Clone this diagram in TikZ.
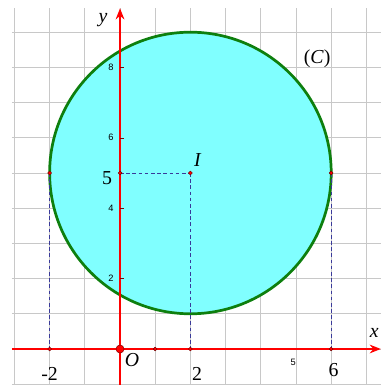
\documentclass[tikz,border=0pt]{standalone}
\usepackage{fontspec}
\setmainfont{Liberation Serif}
\newfontfamily\ticksans{Liberation Sans}
\usetikzlibrary{arrows.meta}
\definecolor{fillc}{HTML}{80FFFF}
\definecolor{circc}{HTML}{0E7F0E}
\definecolor{dashc}{HTML}{3A3A9A}
\definecolor{gridc}{HTML}{C8C8C8}
\tikzset{
  axisline/.style={red, line width=2.3pt, -{Stealth[length=9pt,width=7pt]}},
  guide/.style={dashc, dashed, dash pattern=on 3pt off 2pt, line width=0.6pt},
  smalldot/.style={circle, fill=red, draw=black!60!red, line width=0.3pt, inner sep=0pt, minimum size=3.2pt},
  biglab/.style={font=\fontsize{16}{16}\selectfont, inner sep=0pt},
  itlab/.style={font=\fontsize{16}{16}\selectfont\itshape, inner sep=0pt},
  ticklab/.style={font=\ticksans\fontsize{7.5}{7.5}\selectfont, inner sep=0pt}
}
\begin{document}
\begin{tikzpicture}[x=1cm,y=1cm]
\useasboundingbox (-3.41,-1.023) rectangle (7.41,9.915);
% grid
\draw[gridc, line width=0.7pt] (-3.07,-1.05) grid (7.45,9.68);
% circle
\node[circle, draw=circc, fill=fillc, line width=2.2pt, minimum size=8cm, inner sep=0pt] (C) at (2,5) {};
% axes
\coordinate (xs) at (-3.07,0);
\coordinate (xe) at (7.41,0);
\coordinate (ys) at (0,-1.05);
\coordinate (ye) at (0,9.68);
\draw[axisline] (xs) -- (xe);
\draw[axisline] (ys) -- (ye);
% y ticks
\foreach \t in {2,4,6,8} \draw[red!50!black, line width=0.4pt] (0,\t) -- (0.1,\t);
% named points
\coordinate (I) at (2,5);
\coordinate (A) at (-2,5);
\coordinate (B) at (6,5);
\coordinate (Y5) at (0,5);
\coordinate (Xm2) at (-2,0);
\coordinate (X2) at (2,0);
\coordinate (X6) at (6,0);
\coordinate (X1) at (1,0);
% dashed guides
\draw[guide] (A) -- (Xm2);
\draw[guide] (Y5) -- (I);
\draw[guide] (I) -- (X2);
\draw[guide] (B) -- (X6);
% dots
\foreach \p in {I,A,B,Y5,Xm2,X2,X6,X1} \node[smalldot] at (\p) {};
\node[circle, fill=red, draw=black!50!red, line width=0.4pt, inner sep=0pt, minimum size=6.5pt] (O) at (0,0) {};
% labels
\node[itlab] (ly) at (-0.48,9.35) {y};
\node[itlab] (lx) at (7.22,0.45) {x};
\node[itlab] (lO) at (0.34,-0.31) {O};
\node[itlab] (lI) at (2.2,5.37) {I};
\node[biglab] (lC) at (5.6,8.26) {(\textit{C})};
\node[biglab] (l5) at (-0.37,4.86) {5};
\node[biglab] (lm2) at (-2,-0.72) {-2};
\node[biglab] (l2) at (2.19,-0.7) {2};
\node[biglab] (l6) at (6.07,-0.6) {6};
\node[ticklab] (t8) at (-0.26,8) {8};
\node[ticklab] (t6) at (-0.26,6) {6};
\node[ticklab] (t4) at (-0.26,4) {4};
\node[ticklab] (t2) at (-0.26,2) {2};
\node[ticklab] (t5) at (4.92,-0.37) {5};
\end{tikzpicture}
\end{document}
